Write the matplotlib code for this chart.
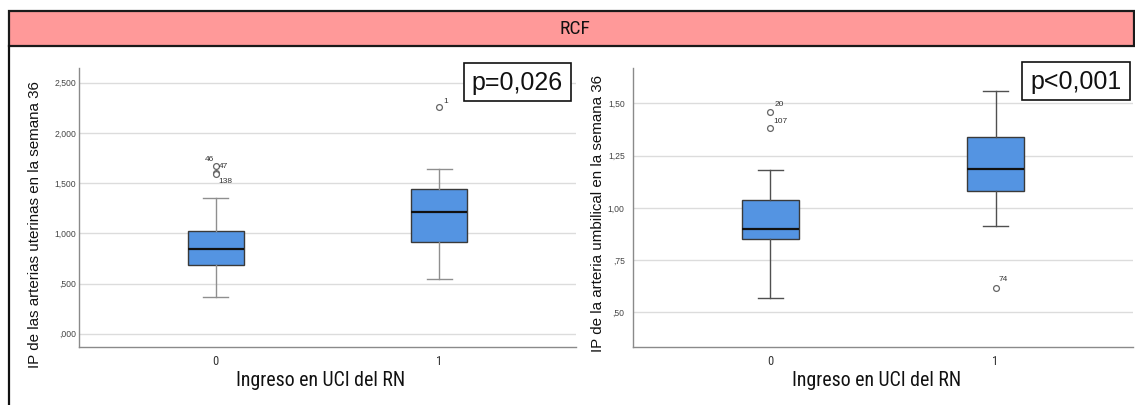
import matplotlib
matplotlib.use("Agg")
import matplotlib.pyplot as plt
from matplotlib import font_manager
from matplotlib.patches import Rectangle

# ---------------- data ----------------
title = "RCF"
categories = ["0", "1"]
x_label = "Ingreso en UCI del RN"

# Left panel: IP arterias uterinas semana 36
left_ylabel = "IP de las arterias uterinas en la semana 36"
left_ticks = [0.0, 0.5, 1.0, 1.5, 2.0, 2.5]
left_ticklabels = [",000", ",500", "1,000", "1,500", "2,000", "2,500"]
left_whislo = [0.369, 0.548]
left_q1 = [0.684, 0.913]
left_med = [0.844, 1.215]
left_q3 = [1.020, 1.441]
left_whishi = [1.349, 1.637]
left_fliers = [[1.670, 1.605, 1.590], [2.255]]
left_flier_ids = [["47", "46", "138"], ["1"]]
left_p = "p=0,026"

# Right panel: IP arteria umbilical semana 36
right_ylabel = "IP de la arteria umbilical en la semana 36"
right_ticks = [0.50, 0.75, 1.00, 1.25, 1.50]
right_ticklabels = [",50", ",75", "1,00", "1,25", "1,50"]
right_whislo = [0.567, 0.911]
right_q1 = [0.850, 1.081]
right_med = [0.898, 1.187]
right_q3 = [1.038, 1.340]
right_whishi = [1.183, 1.559]
right_fliers = [[1.459, 1.380], [0.618]]
right_flier_ids = [["20", "107"], ["74"]]
right_p = "p<0,001"

# ---------------- fonts ----------------
names = {f.name for f in font_manager.fontManager.ttflist}
narrow = next((n for n in ["Liberation Sans Narrow", "Roboto Condensed",
                           "Open Sans Condensed", "Arial Narrow"] if n in names), None)
regular = "Liberation Sans" if "Liberation Sans" in names else "DejaVu Sans"
if narrow is None:
    narrow_font = dict(family=regular, fontstretch="condensed")
    narrow_scale = 0.85
else:
    narrow_font = dict(family=narrow)
    narrow_scale = 1.0

W, H = 1135, 405
fig = plt.figure(figsize=(W / 100, H / 100), dpi=100)


def fx(px):
    return px / W


def fy(py):
    return 1 - py / H


# header bar
fig.patches.append(Rectangle((fx(8.5), fy(46)), fx(1134) - fx(8.5), fy(11) - fy(46),
                             transform=fig.transFigure, facecolor="#FF9999",
                             edgecolor="#1a1a1a", linewidth=1.6, zorder=0))
fig.add_artist(plt.Line2D([fx(8.5), fx(8.5)], [fy(46), fy(405)], transform=fig.transFigure,
                          color="#111111", linewidth=1.6))
fig.text(fx(575), fy(29), title, ha="center", va="center", fontsize=14 * narrow_scale,
         color="#111111", **narrow_font)

box_color = "#5494E2"


def panel(rect, whislo, q1, med, q3, whishi, fliers, ids, id_offsets, ticks, ticklabels,
          ylim, tickpad, whisk_color):
    ax = fig.add_axes(rect)
    stats = []
    for i in range(len(categories)):
        stats.append(dict(whislo=whislo[i], q1=q1[i], med=med[i], q3=q3[i],
                          whishi=whishi[i], fliers=fliers[i], label=categories[i]))
    ax.bxp(stats, positions=range(len(categories)), widths=0.25, capwidths=0.11,
           patch_artist=True, showfliers=True,
           boxprops=dict(facecolor=box_color, edgecolor="#3a3a3a", linewidth=1.0),
           medianprops=dict(color="#111111", linewidth=1.6),
           whiskerprops=dict(color=whisk_color, linewidth=1.0),
           capprops=dict(color=whisk_color, linewidth=1.0),
           flierprops=dict(marker="o", markersize=4.2, markerfacecolor="white",
                           markeredgecolor="#666666", markeredgewidth=0.9),
           zorder=3)
    for i in range(len(categories)):
        for v, lab, (dx, dy, ha) in zip(fliers[i], ids[i], id_offsets[i]):
            ax.annotate(lab, (i, v), xytext=(dx, dy), textcoords="offset pixels",
                        ha=ha, va="center", fontsize=6, color="#333333",
                        family=regular, zorder=4)
    ax.set_xlim(-0.61, 1.61)
    ax.set_ylim(*ylim)
    ax.set_yticks(ticks)
    ax.set_yticklabels(ticklabels)
    ax.set_xticks(range(len(categories)))
    ax.set_xticklabels(categories)
    ax.tick_params(axis="y", length=0, pad=tickpad, labelsize=6.2, labelcolor="#444444")
    ax.tick_params(axis="x", length=0, pad=6, labelsize=9 * narrow_scale, labelcolor="#333333")
    for lab in ax.get_xticklabels():
        lab.set(**narrow_font)
    for lab in ax.get_yticklabels():
        lab.set_family(regular)
    ax.grid(axis="y", color="#dcdcdc", linewidth=1.0, zorder=0)
    ax.set_axisbelow(True)
    for s in ["top", "right"]:
        ax.spines[s].set_visible(False)
    for s in ["left", "bottom"]:
        ax.spines[s].set_color("#8a8a8a")
        ax.spines[s].set_linewidth(1.0)
    return ax


top, bot = 68, 347
left_offsets = [[(3, 0, "left"), (-2, 13, "right"), (3, -7, "left")], [(4, 6, "left")]]
right_offsets = [[(4, 7, "left"), (3, 7, "left")], [(3, 8, "left")]]

panel([fx(79), fy(bot), fx(576) - fx(79), fy(top) - fy(bot)],
      left_whislo, left_q1, left_med, left_q3, left_whishi, left_fliers,
      left_flier_ids, left_offsets, left_ticks, left_ticklabels,
      (-0.132, 2.646), 2.2, "#8f8f8f")
panel([fx(633), fy(bot), fx(1133) - fx(633), fy(top) - fy(bot)],
      right_whislo, right_q1, right_med, right_q3, right_whishi, right_fliers,
      right_flier_ids, right_offsets, right_ticks, right_ticklabels,
      (0.334, 1.669), 6.0, "#505050")

# axis titles
fig.text(fx(35), fy(225), left_ylabel, rotation=90, ha="center", va="center",
         fontsize=10.9, family=regular, color="#111111")
fig.text(fx(598), fy(214), right_ylabel, rotation=90, ha="center", va="center",
         fontsize=10.9, family=regular, color="#111111")
fig.text(fx(321), fy(380), x_label, ha="center", va="center",
         fontsize=14.3 * narrow_scale, color="#111111", **narrow_font)
fig.text(fx(877), fy(380), x_label, ha="center", va="center",
         fontsize=14.3 * narrow_scale, color="#111111", **narrow_font)

# p-value boxes
for (x0, y0, x1, y1, txt) in [(464, 63, 571, 101, left_p), (1022, 62, 1130, 100, right_p)]:
    fig.patches.append(Rectangle((fx(x0), fy(y1)), fx(x1) - fx(x0), fy(y0) - fy(y1),
                                 transform=fig.transFigure, facecolor="white",
                                 edgecolor="#111111", linewidth=1.2, zorder=5))
    fig.text(fx((x0 + x1) / 2), fy((y0 + y1) / 2 + 1), txt, ha="center", va="center",
             fontsize=18, family=regular, color="#111111", zorder=6)

fig.savefig("out.png", dpi=100)
